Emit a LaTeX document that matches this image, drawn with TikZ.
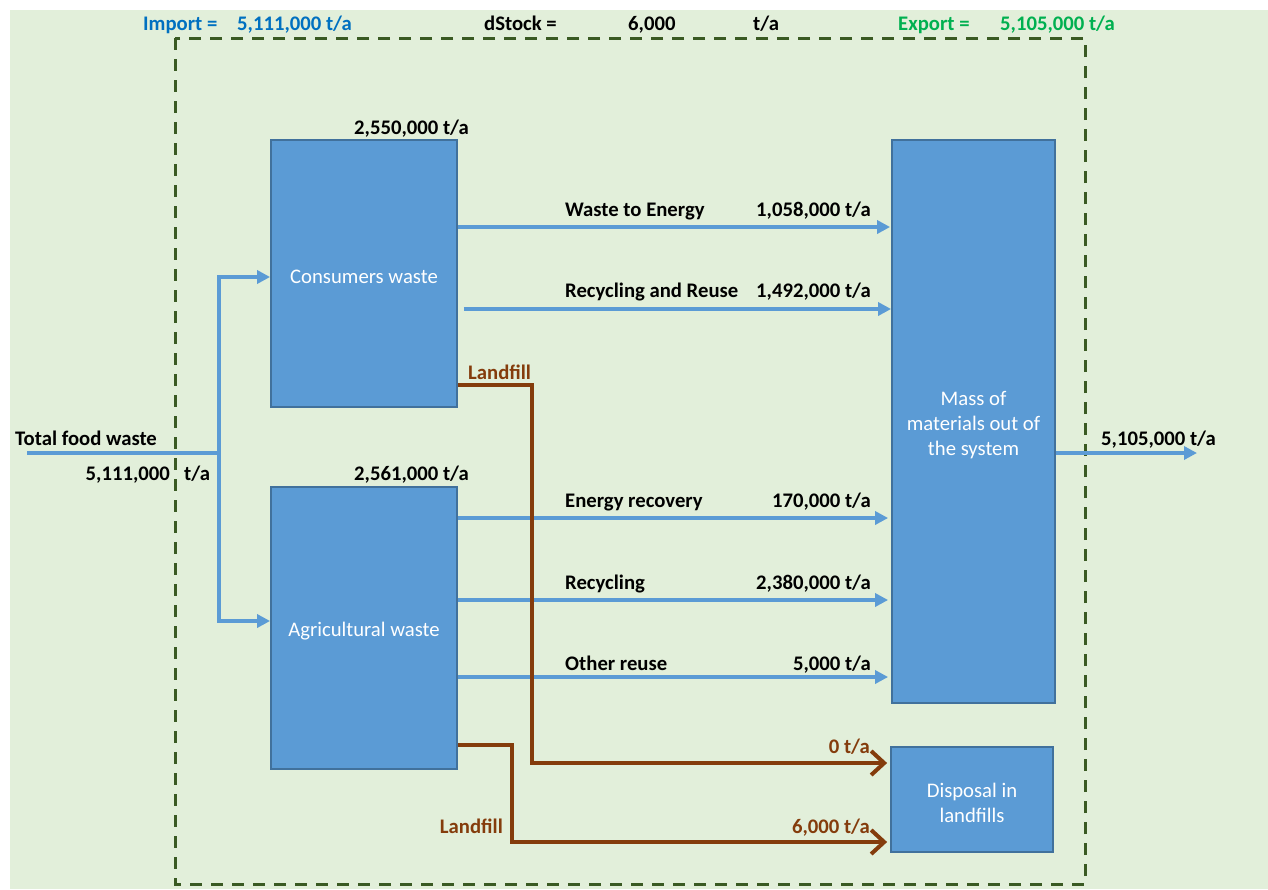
\documentclass[tikz,border=0pt]{standalone}
\usepackage{fontspec}
\setmainfont{Carlito}
\usetikzlibrary{arrows.meta}
\definecolor{bggreen}{HTML}{E2EFDA}
\definecolor{dkgreen}{HTML}{3A5A23}
\definecolor{boxblue}{HTML}{5B9BD5}
\definecolor{boxedge}{HTML}{41719C}
\definecolor{impblue}{HTML}{0070C0}
\definecolor{expgreen}{HTML}{00B050}
\definecolor{brown}{HTML}{843C0C}
\tikzset{
  procbox/.style={draw=boxedge, line width=1.8pt, fill=boxblue, inner sep=0pt},
  boxtxt/.style={text=white, align=center, inner sep=0pt, font=\fontsize{20.7}{25}\selectfont},
  flow/.style={draw=boxblue, line width=3.5pt, -{Triangle[length=13pt,width=13pt]}},
  flowline/.style={draw=boxblue, line width=3.5pt},
  lfflow/.style={draw=brown, line width=4pt, -{Straight Barb[length=13pt,width=24pt]}},
  lbl/.style={font=\fontsize{20.7}{24}\selectfont\bfseries, inner sep=0pt, text=black},
  lfl/.style={lbl, text=brown},
  sysbound/.style={draw=dkgreen, line width=3pt, dash pattern=on 12pt off 9pt}
}
\begin{document}
\begin{tikzpicture}[x=1pt,y=-1pt]
\useasboundingbox (0,0) rectangle (1268,889);
\fill[bggreen] (10,10) rectangle (1268,889);
\draw[sysbound] (175,38) rectangle (1085,884);

% header
\node[lbl, text=impblue, anchor=base west] (himp) at (143,30) {Import =};
\node[lbl, text=impblue, anchor=base west] (himpv) at (237,30) {5,111,000 t/a};
\node[lbl, anchor=base west] (hds) at (484,30) {dStock =};
\node[lbl, anchor=base west] (hdsv) at (628,30) {6,000};
\node[lbl, anchor=base west] (hdsu) at (753,30) {t/a};
\node[lbl, text=expgreen, anchor=base west] (hexp) at (898,30) {Export =};
\node[lbl, text=expgreen, anchor=base west] (hexpv) at (1000,30) {5,105,000 t/a};

% boxes
\node[procbox, minimum width=186pt, minimum height=267pt] (cons) at (364,273.5) {};
\node[procbox, minimum width=186pt, minimum height=282pt] (agri) at (364,628) {};
\node[procbox, minimum width=163pt, minimum height=563pt] (mass) at (973.5,421.5) {};
\node[procbox, minimum width=162pt, minimum height=105pt] (disp) at (972,799.5) {};
\node[boxtxt] (consT) at ([yshift=-3.5pt]cons.center) {Consumers waste};
\node[boxtxt] (agriT) at ([yshift=-3.5pt]agri.center) {Agricultural waste};
\node[boxtxt] (massT) at ([yshift=-3.5pt]mass.center) {Mass of\\materials out of\\the system};
\node[boxtxt] (dispT) at ([yshift=-3.5pt]disp.center) {Disposal in\\landfills};

\node[lbl, anchor=base west] (consv) at (354,134) {2,550,000 t/a};
\node[lbl, anchor=base west] (agriv) at (354,480) {2,561,000 t/a};

% input
\coordinate (src) at (27,453);
\coordinate (split) at (219,453);
\draw[flowline] (src) -- (split);
\draw[flow] (split) |- ([yshift=-3.5pt]cons.west);
\draw[flow] (split) |- ([yshift=7pt]agri.west);
\node[lbl, anchor=base west] (tfw) at (15,445) {Total food waste};
\node[lbl, anchor=base east] (tfwv) at (170,480) {5,111,000};
\node[lbl, anchor=base west] (tfwu) at (184,480) {t/a};

% consumer outflows
\draw[flow, shorten >=1pt] (cons.east |- 0,227) -- (mass.west |- 0,227);
\node[lbl, anchor=base west] (l1) at (565,216) {Waste to Energy};
\node[lbl, anchor=base east] (v1) at (871,216) {1,058,000 t/a};
\draw[flow, shorten <=6pt] (cons.east |- 0,309) -- (mass.west |- 0,309);
\node[lbl, anchor=base west] (l2) at (565,297) {Recycling and Reuse};
\node[lbl, anchor=base east] (v2) at (871,297) {1,492,000 t/a};

% agricultural outflows
\draw[flow, shorten >=3pt] (agri.east |- 0,518) -- (mass.west |- 0,518);
\node[lbl, anchor=base west] (l3) at (565,507) {Energy recovery};
\node[lbl, anchor=base east] (v3) at (871,507) {170,000 t/a};
\draw[flow, shorten >=3pt] (agri.east |- 0,600) -- (mass.west |- 0,600);
\node[lbl, anchor=base west] (l4) at (565,589) {Recycling};
\node[lbl, anchor=base east] (v4) at (871,589) {2,380,000 t/a};
\draw[flow, shorten >=3pt] (agri.east |- 0,677) -- (mass.west |- 0,677);
\node[lbl, anchor=base west] (l5) at (565,670) {Other reuse};
\node[lbl, anchor=base east] (v5) at (871,670) {5,000 t/a};

% landfill flows
\draw[lfflow, shorten >=3pt] (cons.east |- 0,385) -- (532,385) -- (532,763) -- (disp.west |- 0,763);
\node[lfl, anchor=base west] (lf1) at (468,379) {Landfill};
\node[lfl, anchor=base east] (lf1v) at (870,753) {0 t/a};
\draw[lfflow, shorten >=3pt] (agri.east |- 0,745) -- (512,745) -- (512,842) -- (disp.west |- 0,842);
\node[lfl, anchor=base east] (lf2) at (503,833) {Landfill};
\node[lfl, anchor=base east] (lf2v) at (870,833) {6,000 t/a};

% output
\coordinate (out) at (1197,453);
\draw[flow] (mass.east |- out) -- (out);
\node[lbl, anchor=base west] (outv) at (1101,445) {5,105,000 t/a};
\end{tikzpicture}
\end{document}
